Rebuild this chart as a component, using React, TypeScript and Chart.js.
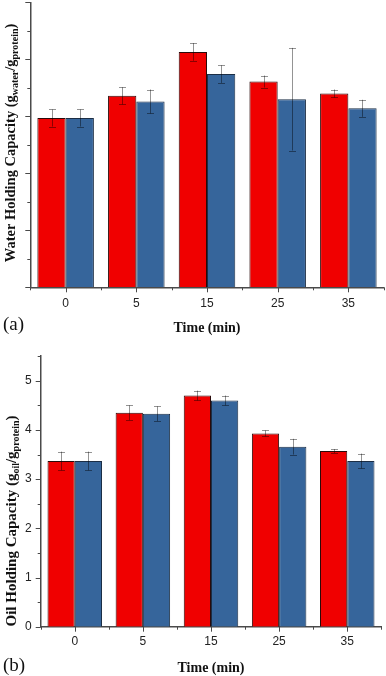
import React, { useEffect, useRef } from 'react';
import { Chart, registerables } from 'chart.js';

Chart.register(...registerables);

// ---------- data ----------
const categories = ['0', '5', '15', '25', '35'];

const waterRed = [2.97, 3.36, 4.13, 3.61, 3.4];
const waterRedErr = [0.15, 0.15, 0.155, 0.105, 0.07];
const waterBlue = [2.97, 3.26, 3.74, 3.3, 3.14];
const waterBlueErr = [0.15, 0.21, 0.155, 0.9, 0.15];

const oilRed = [3.37, 4.35, 4.7, 3.93, 3.57];
const oilRedErr = [0.19, 0.15, 0.1, 0.06, 0.04];
const oilBlue = [3.37, 4.33, 4.6, 3.66, 3.37];
const oilBlueErr = [0.19, 0.15, 0.1, 0.16, 0.15];

const oilTickLabels = ['0', '1', '2', '3', '4', '5'];

const RED = '#F00000';
const BLUE = '#36659B';
const AXIS = '#4a4a4a';

type Part = { t: string; sub?: boolean };

type Cfg = {
  width: number;
  height: number;
  yMax: number;
  showYLabels: boolean;
  yWidth: number;
  xHeight: number;
  padTop: number;
  padRight: number;
  labelPad: number;
  red: number[];
  blue: number[];
  redErr: number[];
  blueErr: number[];
  titleParts: Part[];
  titleSize: number;
  titleCenterY: number;
  titleBaseX: number;
  xTitleX: number;
  xTitleY: number;
  panel: string;
  panelY: number;
};

function makePlugin(cfg: Cfg) {
  return {
    id: 'decor',
    afterDatasetsDraw(chart: any) {
      const ctx = chart.ctx as CanvasRenderingContext2D;
      const ys = chart.scales.y;
      const errs = [cfg.redErr, cfg.blueErr];
      ctx.save();
      ctx.strokeStyle = 'rgba(0,0,0,0.42)';
      ctx.lineWidth = 1;
      errs.forEach((errArr, di) => {
        const meta = chart.getDatasetMeta(di);
        meta.data.forEach((bar: any, i: number) => {
          const v = chart.data.datasets[di].data[i] as number;
          const e = errArr[i];
          const yt = ys.getPixelForValue(v + e);
          const yb = ys.getPixelForValue(v - e);
          const bx = Math.round(bar.x) + 0.5;
          ctx.beginPath();
          ctx.moveTo(bx, yt);
          ctx.lineTo(bx, yb);
          ctx.moveTo(bx - 3.5, Math.round(yt) + 0.5);
          ctx.lineTo(bx + 3.5, Math.round(yt) + 0.5);
          ctx.moveTo(bx - 3.5, Math.round(yb) + 0.5);
          ctx.lineTo(bx + 3.5, Math.round(yb) + 0.5);
          ctx.stroke();
        });
      });
      ctx.restore();
    },
    afterDraw(chart: any) {
      const ctx = chart.ctx as CanvasRenderingContext2D;
      const xs = chart.scales.x;
      const ys = chart.scales.y;
      const area = chart.chartArea;
      ctx.save();
      ctx.strokeStyle = AXIS;
      ctx.lineWidth = 1;
      // y ticks (major at integers, minor at halves), outward
      for (let v = 0; v <= cfg.yMax + 1e-9; v += 0.5) {
        const py = Math.round(ys.getPixelForValue(v)) + 0.5;
        const major = Math.abs(v - Math.round(v)) < 1e-9;
        const len = major ? 5 : 3;
        ctx.beginPath();
        ctx.moveTo(area.left, py);
        ctx.lineTo(area.left - len, py);
        ctx.stroke();
      }
      // x ticks: centers major, boundaries minor
      const n = categories.length;
      for (let i = 0; i < n; i++) {
        const px = Math.round(xs.getPixelForValue(i)) + 0.5;
        ctx.beginPath();
        ctx.moveTo(px, area.bottom);
        ctx.lineTo(px, area.bottom + 5);
        ctx.stroke();
      }
      for (let i = 0; i <= n; i++) {
        const px = Math.round(xs.getPixelForValue(i - 0.5)) + 0.5;
        ctx.beginPath();
        ctx.moveTo(px, area.bottom);
        ctx.lineTo(px, area.bottom + 3);
        ctx.stroke();
      }
      ctx.restore();

      // x title
      ctx.save();
      ctx.fillStyle = '#111';
      ctx.font = 'bold 14px "Liberation Serif"';
      ctx.textAlign = 'center';
      ctx.textBaseline = 'middle';
      ctx.fillText('Time (min)', cfg.xTitleX, cfg.xTitleY);
      // panel label
      ctx.font = '19px "Liberation Serif"';
      ctx.textAlign = 'left';
      ctx.fillText(cfg.panel, 3, cfg.panelY);
      ctx.restore();

      // rotated y title with subscripts
      ctx.save();
      ctx.fillStyle = '#111';
      ctx.translate(cfg.titleBaseX, cfg.titleCenterY);
      ctx.rotate(-Math.PI / 2);
      ctx.textBaseline = 'alphabetic';
      ctx.textAlign = 'left';
      const subSize = Math.round(cfg.titleSize * 0.68);
      let total = 0;
      cfg.titleParts.forEach((p) => {
        ctx.font = `bold ${p.sub ? subSize : cfg.titleSize}px "Liberation Serif"`;
        total += ctx.measureText(p.t).width;
      });
      let x = -total / 2;
      cfg.titleParts.forEach((p) => {
        ctx.font = `bold ${p.sub ? subSize : cfg.titleSize}px "Liberation Serif"`;
        ctx.fillText(p.t, x, p.sub ? 3 : 0);
        x += ctx.measureText(p.t).width;
      });
      ctx.restore();
    },
  };
}

function BarPanel({ cfg }: { cfg: Cfg }) {
  const ref = useRef<HTMLCanvasElement | null>(null);
  useEffect(() => {
    if (!ref.current) return;
    const chart = new Chart(ref.current, {
      type: 'bar',
      data: {
        labels: categories,
        datasets: [
          {
            label: 'Series 1',
            data: cfg.red,
            backgroundColor: RED,
            borderColor: '#2a0a0a',
            borderWidth: 1,
            categoryPercentage: 0.8,
            barPercentage: 1.0,
          },
          {
            label: 'Series 2',
            data: cfg.blue,
            backgroundColor: BLUE,
            borderColor: '#1c2e45',
            borderWidth: 1,
            categoryPercentage: 0.8,
            barPercentage: 1.0,
          },
        ],
      },
      options: {
        animation: false,
        responsive: false,
        devicePixelRatio: 1,
        layout: { padding: { top: cfg.padTop, right: cfg.padRight, left: 0, bottom: 0 } },
        plugins: { legend: { display: false }, tooltip: { enabled: false }, title: { display: false } },
        scales: {
          x: {
            grid: { display: false, drawTicks: false },
            border: { display: true, color: AXIS, width: 1.5 },
            ticks: {
              color: '#222',
              font: { family: 'Liberation Sans', size: 12 },
              padding: cfg.labelPad,
              maxRotation: 0,
            },
            afterFit: (s: any) => {
              s.height = cfg.xHeight;
            },
          },
          y: {
            min: 0,
            max: cfg.yMax,
            grid: { display: false, drawTicks: false },
            border: { display: true, color: AXIS, width: 1.5 },
            ticks: {
              display: cfg.showYLabels,
              stepSize: 1,
              includeBounds: false,
              color: '#222',
              font: { family: 'Liberation Sans', size: 12 },
              padding: 9,
              callback: (v: any) => {
                const idx = oilTickLabels.indexOf(String(v));
                return idx >= 0 ? oilTickLabels[idx] : '';
              },
            },
            afterFit: (s: any) => {
              s.width = cfg.yWidth;
            },
          },
        },
      } as any,
      plugins: [makePlugin(cfg)],
    });
    return () => chart.destroy();
  }, [cfg]);
  return <canvas ref={ref} width={cfg.width} height={cfg.height} style={{ display: 'block', width: cfg.width, height: cfg.height }} />;
}

const topCfg: Cfg = {
  width: 386,
  height: 340,
  yMax: 5,
  showYLabels: false,
  yWidth: 30.3,
  xHeight: 52.7,
  padTop: 2.3,
  padRight: 2.3,
  labelPad: 9,
  red: waterRed,
  blue: waterBlue,
  redErr: waterRedErr,
  blueErr: waterBlueErr,
  titleParts: [
    { t: 'Water Holding Capacity (g' },
    { t: 'water', sub: true },
    { t: '/g' },
    { t: 'protein', sub: true },
    { t: ')' },
  ],
  titleSize: 14.5,
  titleCenterY: 143,
  titleBaseX: 15,
  xTitleX: 207,
  xTitleY: 328,
  panel: '(a)',
  panelY: 325,
};

const bottomCfg: Cfg = {
  width: 386,
  height: 336,
  yMax: 5.5,
  showYLabels: true,
  yWidth: 40.7,
  xHeight: 49.3,
  padTop: 11.7,
  padRight: 4.7,
  labelPad: 8,
  red: oilRed,
  blue: oilBlue,
  redErr: oilRedErr,
  blueErr: oilBlueErr,
  titleParts: [
    { t: 'Oil Holding Capacity (g' },
    { t: 'oil', sub: true },
    { t: '/g' },
    { t: 'protein', sub: true },
    { t: ')' },
  ],
  titleSize: 15,
  titleCenterY: 181,
  titleBaseX: 16,
  xTitleX: 211,
  xTitleY: 328,
  panel: '(b)',
  panelY: 326,
};

export default function App() {
  return (
    <div style={{ position: 'absolute', left: 0, top: 0, width: 386, height: 676, background: '#fff' }}>
      <BarPanel cfg={topCfg} />
      <BarPanel cfg={bottomCfg} />
    </div>
  );
}
